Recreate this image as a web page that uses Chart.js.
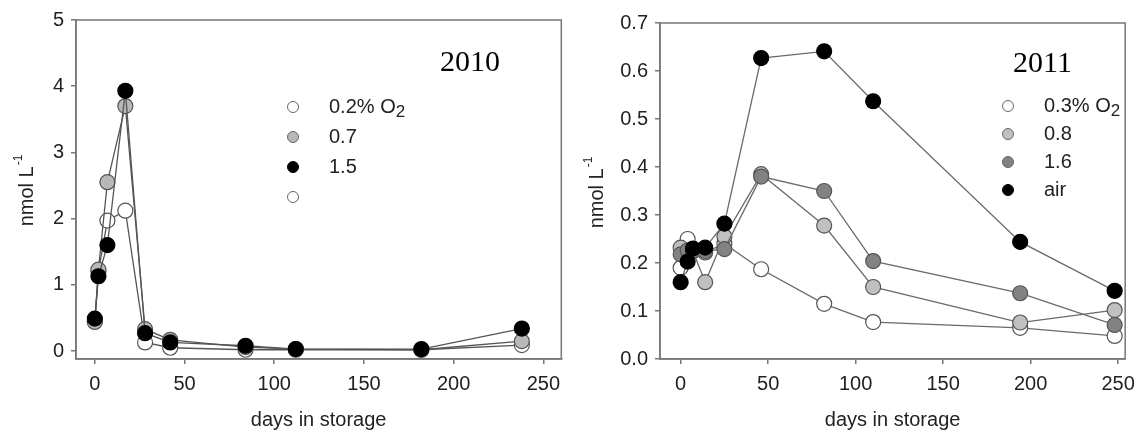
<!DOCTYPE html>
<html>
<head>
<meta charset="utf-8">
<script src="https://cdn.jsdelivr.net/npm/chart.js@4.4.0/dist/chart.umd.min.js"></script>
<style>
  html, body { margin: 0; padding: 0; background: #fff; }
  #wrap { position: relative; width: 1143px; height: 434px; }
  .box { position: absolute; top: 0; height: 434px; }
</style>
</head>
<body>
<div id="wrap">
  <div class="box" style="left:0;width:570px"><canvas id="chart2010" width="570" height="434"></canvas></div>
  <div class="box" style="left:570px;width:573px"><canvas id="chart2011" width="573" height="434"></canvas></div>
</div>
<script>
// ---- 2010 data ----
const days2010 = [0, 2, 7, 17, 28, 42, 84, 112, 182, 238];
const o2_02 = [0.45, 1.2, 1.97, 2.12, 0.13, 0.05, 0.02, 0.02, 0.02, 0.09];
const o2_07 = [0.44, 1.23, 2.55, 3.7, 0.33, 0.17, 0.06, 0.03, 0.02, 0.15];
const o2_15 = [0.49, 1.13, 1.6, 3.93, 0.27, 0.13, 0.08, 0.03, 0.03, 0.34];
const legend2010 = ['0.2% O2', '0.7', '1.5', ''];
const yTicks2010 = [0, 1, 2, 3, 4, 5];

// ---- 2011 data ----
const days2011 = [0, 4, 7, 14, 25, 46, 82, 110, 194, 248];
const o2_03 = [0.19, 0.25, 0.225, 0.222, 0.24, 0.187, 0.115, 0.077, 0.065, 0.048];
const o2_08 = [0.232, 0.225, 0.225, 0.16, 0.255, 0.385, 0.278, 0.15, 0.076, 0.102];
const o2_16 = [0.218, 0.226, 0.225, 0.225, 0.229, 0.38, 0.35, 0.204, 0.137, 0.071];
const air = [0.16, 0.203, 0.23, 0.232, 0.282, 0.627, 0.641, 0.537, 0.244, 0.142];
const legend2011 = ['0.3% O2', '0.8', '1.6', 'air'];
const yTicks2011 = [0, 0.1, 0.2, 0.3, 0.4, 0.5, 0.6, 0.7];

const xTicks = [0, 50, 100, 150, 200, 250];

const FONT = 'Arial, "Liberation Sans", sans-serif';
const AXIS = '#777';

function pts(xs, ys) {
  return xs.map((x, i) => ({x: x, y: ys[i]}));
}

// order: lower number is drawn on top
function series(xs, ys, fill, lineCol, order) {
  return {
    data: pts(xs, ys),
    order: order,
    showLine: true,
    borderColor: lineCol,
    borderWidth: 1.3,
    backgroundColor: fill,
    pointBackgroundColor: fill,
    pointBorderColor: fill == '#000' ? '#000' : '#555',
    pointBorderWidth: 1.2,
    pointRadius: 7.5,
    pointHoverRadius: 7.5
  };
}

// frame, year label, legend and y title
const decor = {
  id: 'decor',
  beforeDatasetsDraw(chart, args, o) {
    const a = chart.chartArea, ctx = chart.ctx;
    ctx.save();
    ctx.strokeStyle = AXIS;
    ctx.lineWidth = 1.5;
    ctx.strokeRect(a.left, a.top, a.right - a.left, a.bottom - a.top);
    ctx.restore();
  },
  afterDraw(chart, args, o) {
    const ctx = chart.ctx;
    ctx.save();
    // year
    ctx.fillStyle = '#000';
    ctx.font = '30px "Liberation Serif", "Times New Roman", serif';
    ctx.textBaseline = 'middle';
    ctx.fillText(o.year, o.yearX, o.yearY);
    // legend
    o.labels.forEach((lab, i) => {
      const cy = o.legY + i * o.legStep;
      ctx.beginPath();
      ctx.arc(o.legX, cy, 5.5, 0, Math.PI * 2);
      ctx.fillStyle = o.fills[i];
      ctx.fill();
      ctx.lineWidth = 1;
      ctx.strokeStyle = o.fills[i] == '#000' ? '#000' : '#666';
      ctx.stroke();
      ctx.fillStyle = '#222';
      ctx.font = '20px ' + FONT;
      ctx.textBaseline = 'middle';
      if (lab.endsWith('O2')) {
        const base = lab.slice(0, -1);
        ctx.fillText(base, o.textX, cy);
        const w = ctx.measureText(base).width;
        ctx.font = '17px ' + FONT;
        ctx.fillText('2', o.textX + w, cy + 5);
      } else {
        ctx.fillText(lab, o.textX, cy);
      }
    });
    // y axis title with superscript
    ctx.translate(o.titleX, o.titleY);
    ctx.rotate(-Math.PI / 2);
    ctx.fillStyle = '#222';
    ctx.font = '20px ' + FONT;
    const w1 = ctx.measureText('nmol L').width;
    ctx.font = '12px ' + FONT;
    const w2 = ctx.measureText('-1').width;
    const x0 = -(w1 + w2) / 2;
    ctx.textBaseline = 'middle';
    ctx.font = '20px ' + FONT;
    ctx.fillText('nmol L', x0, 0);
    ctx.font = '12px ' + FONT;
    ctx.fillText('-1', x0 + w1 + 1, -8);
    ctx.restore();
  }
};

function makeChart(id, datasets, o) {
  return new Chart(document.getElementById(id), {
    type: 'scatter',
    data: {datasets: datasets},
    plugins: [decor],
    options: {
      responsive: false,
      animation: false,
      layout: {padding: {top: o.padTop, right: o.padRight, left: 0, bottom: 0}},
      plugins: {
        legend: {display: false},
        tooltip: {enabled: false},
        decor: o.decor
      },
      scales: {
        x: {
          type: 'linear',
          min: o.xMin, max: o.xMax,
          afterBuildTicks: s => { s.ticks = xTicks.map(v => ({value: v})); },
          afterFit: s => { s.height = 75; },
          grid: {display: true, drawOnChartArea: false, drawTicks: true, tickLength: 5, color: AXIS, lineWidth: 1.5},
          border: {display: true, color: AXIS, width: 1.5},
          ticks: {color: '#222', font: {family: FONT, size: 20}, padding: 8, maxRotation: 0},
          title: {display: true, text: 'days in storage', color: '#222', font: {family: FONT, size: 20}, padding: {top: 0, bottom: 2}}
        },
        y: {
          type: 'linear',
          min: o.yMin, max: o.yMax,
          afterBuildTicks: s => { s.ticks = o.yTicks.map(v => ({value: v})); },
          afterFit: s => { s.width = o.yWidth; },
          grid: {display: true, drawOnChartArea: false, drawTicks: true, tickLength: 5, color: AXIS, lineWidth: 1.5},
          border: {display: true, color: AXIS, width: 1.5},
          ticks: {color: '#222', font: {family: FONT, size: 20}, padding: 7, callback: o.fmt}
        }
      }
    }
  });
}

makeChart('chart2010', [
  series(days2010, o2_02, '#fff', '#555', 3),
  series(days2010, o2_07, '#b8b8b8', '#555', 2),
  series(days2010, o2_15, '#000', '#555', 1)
], {
  padTop: 20, padRight: 7, yWidth: 76,
  xMin: -10.5, xMax: 260, yMin: -0.12, yMax: 5,
  yTicks: yTicks2010, fmt: v => String(v),
  decor: {
    year: '2010', yearX: 440, yearY: 63,
    labels: legend2010, fills: ['#fff', '#b8b8b8', '#000', '#fff'],
    legX: 293, legY: 107, legStep: 30, textX: 329,
    titleX: 27, titleY: 191
  }
});

makeChart('chart2011', [
  series(days2011, o2_03, '#fff', '#6a6a6a', 4),
  series(days2011, o2_08, '#c0c0c0', '#6a6a6a', 3),
  series(days2011, o2_16, '#828282', '#6a6a6a', 2),
  series(days2011, air, '#000', '#6a6a6a', 1)
], {
  padTop: 23, padRight: 10, yWidth: 90,
  xMin: -11.8, xMax: 254, yMin: 0, yMax: 0.7,
  yTicks: yTicks2011, fmt: v => v.toFixed(1),
  decor: {
    year: '2011', yearX: 443, yearY: 64,
    labels: legend2011, fills: ['#fff', '#c0c0c0', '#828282', '#000'],
    legX: 438, legY: 106, legStep: 28, textX: 474,
    titleX: 27, titleY: 193
  }
});
</script>
</body>
</html>
